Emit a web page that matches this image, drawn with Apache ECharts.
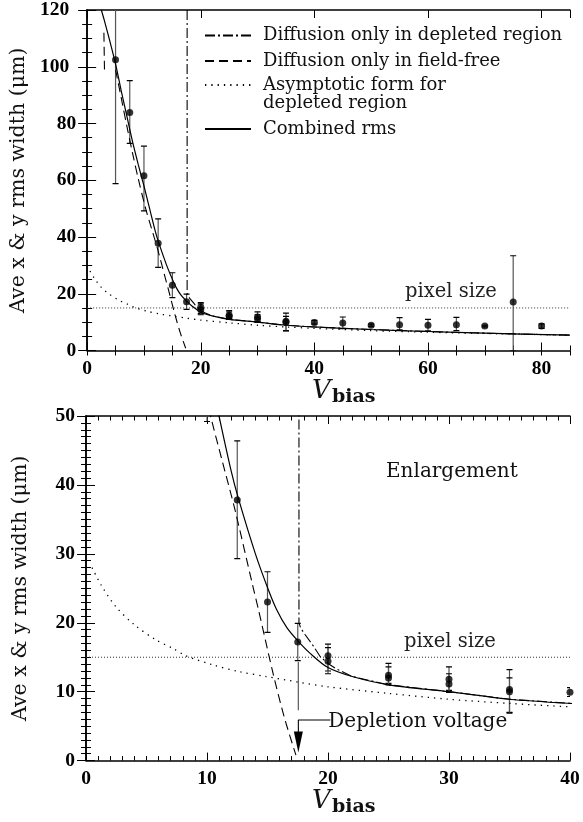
<!DOCTYPE html>
<html>
<head>
<meta charset="utf-8">
<script src="https://cdn.jsdelivr.net/npm/echarts@6/dist/echarts.min.js"></script>
<style>
  html, body { margin: 0; padding: 0; background: #fff; }
  #chart { width: 583px; height: 822px; }
</style>
</head>
<body>
<div id="chart"></div>
<script>
// measured points (Vbias, rms width) and their error bars
const pointV    = [5, 7.5, 10, 12.5, 15, 17.5, 20, 20, 25, 25, 30, 30, 35, 35, 40, 45, 50, 55, 60, 65, 70, 75, 80];
const pointY    = [102.5, 83.9, 61.6, 37.8, 23.0, 17.2, 15.2, 14.4, 12.4, 12.0, 11.8, 11.1, 10.3, 10.0, 9.9, 9.7, 8.9, 9.1, 8.9, 9.1, 8.6, 17.1, 8.6];
const errLow    = [58.8, 73.0, 49.2, 29.3, 18.6, 14.5, 13.0, 12.6, 11.2, 11.0, 10.2, 9.9, 7.0, 6.9, 9.3, 7.7, 8.5, 7.3, 6.9, 7.0, 8.3, 0, 7.8];
const errHigh   = [125, 95.1, 72.0, 46.4, 27.4, 19.9, 16.9, 16.4, 14.1, 13.6, 13.6, 12.6, 13.2, 12.0, 10.6, 11.8, 9.3, 11.6, 11.0, 11.7, 8.9, 33.4, 9.4];

// model curves, [Vbias, width]
const depletedOnly = [[17.6, 120], [17.6, 20], [17.75, 19.2], [18.1, 18.3], [18.8, 16.6], [19.35, 15.1], [20, 14.1],
  [20.7, 13.3], [22, 12.2], [25, 11.0], [30, 10.0], [35, 8.9], [40, 8.3], [50, 7.4], [60, 6.7], [70, 6.1], [85, 5.4]];
const fieldFree = [[5.0, 99], [6, 89], [7, 79], [8, 69.5], [9, 60.5], [10.3, 50], [11.3, 43.2], [12.31, 36.4],
  [13.83, 25], [14.24, 22], [15.48, 12.5], [16.4, 6.2], [17.35, 0.8]];
const fieldFreeStub = [[2.95, 112], [3.05, 99]];
const asymptotic = [[0.5, 28], [1.24, 25.5], [2.48, 22.3], [4, 19.7], [5.79, 17.5], [7.16, 16.3], [8.26, 15.2],
  [10.47, 13.9], [12.67, 12.9], [14.9, 12.2], [17.5, 11.4], [20, 10.7], [25, 9.75], [30, 8.9], [35, 8.3],
  [40, 7.8], [50, 7.0], [60, 6.45], [70, 6.0], [85, 5.4]];
const combined = [[2.5, 120], [3, 116.5], [4, 109], [5, 101], [6, 91.5], [7, 82.5], [8, 73.5], [9, 65.5], [10, 58],
  [10.93, 50.5], [12, 42], [12.6, 38], [14, 30], [15.07, 24.8], [15.76, 21.9], [16.6, 19.3], [17.55, 17.3],
  [18.5, 15.6], [20, 13.5], [22, 12.2], [25, 11.0], [30, 10.0], [35, 8.9], [40, 8.3], [50, 7.4], [60, 6.7],
  [70, 6.1], [85, 5.4]];
const pixelSize = 15;

// depletion voltage marker (bottom panel)
const depletionLine = [[17.55, 14.3], [17.55, 7.3]];
const depletionArrow = [[20.2, 5.9], [17.55, 5.9], [17.55, 2.7]];

const topTicksY = [0, 120, 20];   // min, max, interval
const topTicksX = [0, 85, 20];
const botTicksY = [0, 50, 10];
const botTicksX = [0, 40, 10];

const N_DEP = 'Diffusion only in depleted region';
const N_FF = 'Diffusion only in field-free';
const N_ASYM = 'Asymptotic form for depleted region';
const N_COMB = 'Combined rms';

const chart = echarts.init(document.getElementById('chart'));

const tickFont = { fontFamily: 'Liberation Serif', fontWeight: 'bold', fontSize: 19.5, color: '#000' };
const serif = 'DejaVu Serif';

const errData = pointV.map((v, i) => [v, errLow[i], errHigh[i]]);
const pointData = pointV.map((v, i) => [v, pointY[i]]);

function renderErr(params, api) {
    const x = api.value(0);
    const lo = api.coord([x, api.value(1)]);
    const hi = api.coord([x, api.value(2)]);
    const w = 3;
    return {
        type: 'group',
        children: [
            { type: 'line', shape: { x1: lo[0], y1: lo[1], x2: hi[0], y2: hi[1] }, style: { stroke: '#555', lineWidth: 1.2 } },
            { type: 'line', shape: { x1: lo[0] - w, y1: lo[1], x2: lo[0] + w, y2: lo[1] }, style: { stroke: '#000', lineWidth: 1.2 } },
            { type: 'line', shape: { x1: hi[0] - w, y1: hi[1], x2: hi[0] + w, y2: hi[1] }, style: { stroke: '#000', lineWidth: 1.2 } }
        ]
    };
}

function panelSeries(xi, yi, xMax) {
    const base = { xAxisIndex: xi, yAxisIndex: yi, symbol: 'none', silent: true, clip: true, itemStyle: { color: '#000' } };
    return [
        Object.assign({}, base, { type: 'line', name: 'pixel', data: [[0, pixelSize], [xMax, pixelSize]],
            lineStyle: { color: '#333', width: 1, type: [1, 2] } }),
        Object.assign({}, base, { type: 'line', name: N_ASYM, data: asymptotic, smooth: 0.3,
            lineStyle: { color: '#000', width: 1.3, type: [1.3, 5] } }),
        Object.assign({}, base, { type: 'line', name: N_FF, data: fieldFree, smooth: 0.3,
            lineStyle: { color: '#000', width: 1.1, type: [9, 5] } }),
        Object.assign({}, base, { type: 'line', name: N_FF, data: fieldFreeStub,
            lineStyle: { color: '#000', width: 1.1, type: [9, 5] } }),
        Object.assign({}, base, { type: 'line', name: N_DEP, data: depletedOnly,
            lineStyle: { color: '#000', width: 1.1, type: [10, 3, 2, 3] } }),
        Object.assign({}, base, { type: 'line', name: N_COMB, data: combined, smooth: 0.3,
            lineStyle: { color: '#000', width: 1.2 } }),
        { type: 'custom', xAxisIndex: xi, yAxisIndex: yi, data: errData, renderItem: renderErr, clip: true, silent: true, z: 3 },
        { type: 'scatter', xAxisIndex: xi, yAxisIndex: yi, data: pointData, symbolSize: 7, clip: true, silent: true,
            itemStyle: { color: '#000' }, z: 4 }
    ];
}

function yAxisCfg(grid, t, pos, minorSplit) {
    return {
        type: 'value', gridIndex: grid, position: pos, min: t[0], max: t[1], interval: t[2],
        axisLine: { show: true, lineStyle: { color: '#000', width: 1.5 } },
        axisTick: { show: true, inside: true, length: 9, lineStyle: { color: '#000', width: 1 } },
        minorTick: { show: true, splitNumber: minorSplit, length: 5, lineStyle: { color: '#000', width: 1 } },
        splitLine: { show: false },
        axisLabel: pos === 'left' ? Object.assign({
            margin: 11,
            formatter: v => v >= 100 ? '{w|' + v + '}' : String(v),
            rich: { w: Object.assign({ padding: [0, 7, 0, 0] }, tickFont) }
        }, tickFont) : { show: false },
        name: pos === 'left' ? 'Ave x & y rms width (\u03bcm)' : '',
        nameLocation: 'middle', nameGap: 55,
        nameTextStyle: { fontFamily: serif, fontSize: 20.5, color: '#111' }
    };
}

function xAxisCfg(grid, t, pos, opts) {
    return Object.assign({
        type: 'value', gridIndex: grid, position: pos, min: t[0], max: t[1], interval: t[2],
        axisLine: { show: true, onZero: false, lineStyle: { color: '#000', width: 1.5 } },
        axisTick: { show: true, inside: true, length: 8, lineStyle: { color: '#000', width: 1 } },
        splitLine: { show: false },
        axisLabel: pos === 'bottom' ? Object.assign({ margin: 8 }, tickFont) : { show: false }
    }, opts || {});
}

const minorX = { interval: 5, axisLine: { show: false }, axisLabel: { show: false },
    axisTick: { show: true, inside: true, length: 5, lineStyle: { color: '#000', width: 1 } } };

const legendBase = {
    orient: 'vertical', left: 204, padding: 0, itemWidth: 46, itemHeight: 10, itemGap: 7.5,
    selectedMode: false,
    itemStyle: { opacity: 0 },
    textStyle: { fontFamily: serif, fontSize: 18, color: '#111', lineHeight: 18, padding: [0, 0, 0, 7] }
};

const option = {
    animation: false,
    backgroundColor: '#fff',
    grid: [
        { left: 86, right: 13, top: 7, height: 343.5 },
        { left: 86, right: 13, top: 416, bottom: 61.4 }
    ],
    xAxis: [
        xAxisCfg(0, topTicksX, 'bottom', { axisLabel: Object.assign({ margin: 8, showMaxLabel: false }, tickFont) }),
        xAxisCfg(0, topTicksX, 'bottom', minorX),
        xAxisCfg(0, topTicksX, 'top'),
        xAxisCfg(0, topTicksX, 'top', minorX),
        xAxisCfg(1, botTicksX, 'bottom', { minorTick: { show: true, splitNumber: 10, length: 4.5, lineStyle: { color: '#000', width: 1 } } }),
        xAxisCfg(1, botTicksX, 'top', { minorTick: { show: true, splitNumber: 10, length: 4.5, lineStyle: { color: '#000', width: 1 } } })
    ],
    yAxis: [
        yAxisCfg(0, topTicksY, 'left', 4),
        yAxisCfg(0, topTicksY, 'right', 4),
        yAxisCfg(1, botTicksY, 'left', 10),
        yAxisCfg(1, botTicksY, 'right', 10)
    ],
    legend: [
        Object.assign({}, legendBase, { top: 26.5, data: [N_DEP, N_FF] }),
        Object.assign({}, legendBase, { top: 58, data: [N_ASYM],
            formatter: () => ' \nAsymptotic form for\ndepleted region' }),
        Object.assign({}, legendBase, { top: 120, data: [N_COMB] })
    ],
    series: panelSeries(0, 0, 85).concat(panelSeries(4, 2, 40)).concat([
        { type: 'line', xAxisIndex: 4, yAxisIndex: 2, data: depletionLine, symbol: 'none', silent: true,
            lineStyle: { color: '#666', width: 1.3 } },
        { type: 'line', xAxisIndex: 4, yAxisIndex: 2, silent: true, showSymbol: true,
            data: depletionArrow.map((p, i) => i === depletionArrow.length - 1
                ? { value: p, symbol: 'triangle', symbolRotate: 180, symbolSize: [9, 21] }
                : { value: p, symbol: 'none' }),
            itemStyle: { color: '#000' }, lineStyle: { color: '#000', width: 1.1 } }
    ]),
    graphic: [
        { type: 'text', x: 405, y: 292, style: { text: 'pixel size', font: '19.5px "DejaVu Serif"', fill: '#222', verticalAlign: 'middle', textVerticalAlign: 'middle' } },
        { type: 'text', x: 404, y: 641.5, style: { text: 'pixel size', font: '19.5px "DejaVu Serif"', fill: '#222', verticalAlign: 'middle', textVerticalAlign: 'middle' } },
        { type: 'text', x: 386, y: 471.4, style: { text: 'Enlargement', font: '20px "DejaVu Serif"', fill: '#111', verticalAlign: 'middle', textVerticalAlign: 'middle' } },
        { type: 'text', x: 328.3, y: 721.4, style: { text: 'Depletion voltage', font: '20px "DejaVu Serif"', fill: '#111', verticalAlign: 'middle', textVerticalAlign: 'middle' } },
        { type: 'text', x: 312, y: 391, style: { text: 'V', font: 'italic 26px "DejaVu Serif"', fill: '#111', verticalAlign: 'middle', textVerticalAlign: 'middle' } },
        { type: 'text', x: 332, y: 397.5, style: { text: 'bias', font: 'bold 19px "DejaVu Serif"', fill: '#111', verticalAlign: 'middle', textVerticalAlign: 'middle' } },
        { type: 'text', x: 312, y: 801, style: { text: 'V', font: 'italic 26px "DejaVu Serif"', fill: '#111', verticalAlign: 'middle', textVerticalAlign: 'middle' } },
        { type: 'text', x: 332, y: 807.5, style: { text: 'bias', font: 'bold 19px "DejaVu Serif"', fill: '#111', verticalAlign: 'middle', textVerticalAlign: 'middle' } }
    ]
};

chart.setOption(option);
</script>
</body>
</html>
